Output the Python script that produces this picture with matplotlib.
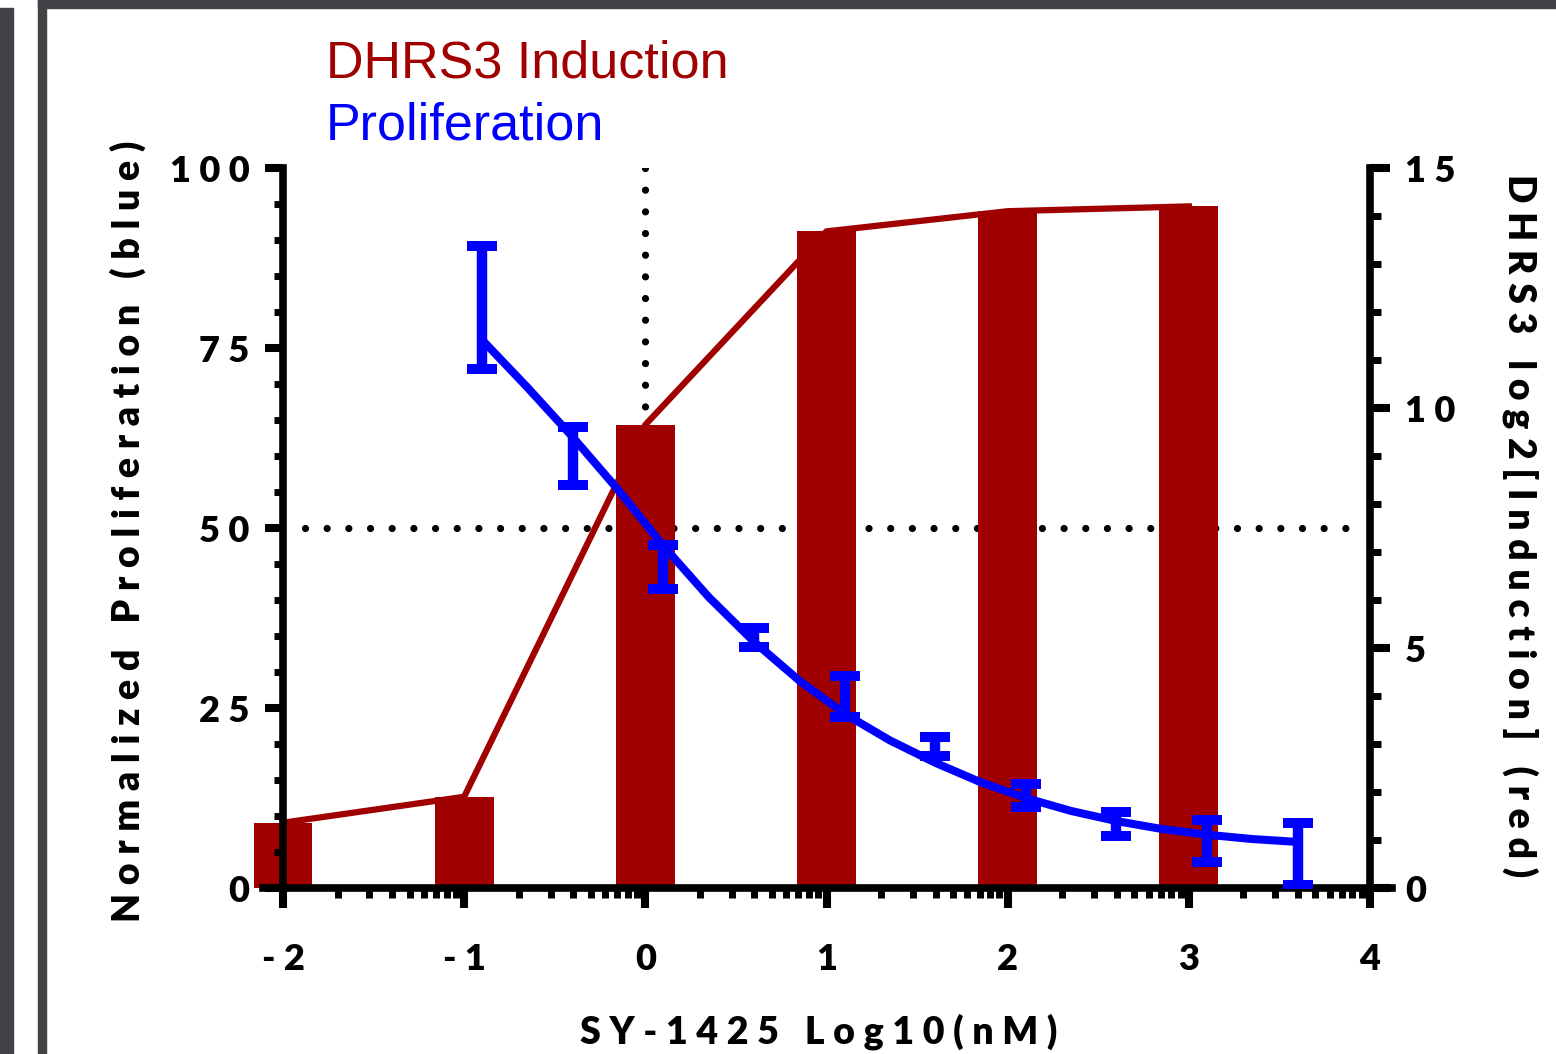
import numpy as np
import matplotlib
matplotlib.use("Agg")
import matplotlib.pyplot as plt
from matplotlib.patches import Rectangle
from matplotlib.ticker import FixedLocator, MultipleLocator

# Data
dose_bars = [-2, -1, 0, 1, 2, 3]
dhrs3_induction = [1.36, 1.9, 9.65, 13.68, 14.1, 14.2]

dose_prolif = [-0.9, -0.4, 0.1, 0.6, 1.1, 1.6, 2.1, 2.6, 3.1, 3.6]
prolif_lo = [72.1, 56.0, 41.5, 33.5, 23.75, 18.3, 11.25, 7.2, 3.6, 0.4]
prolif_hi = [89.2, 64.0, 47.6, 36.1, 29.4, 21.0, 14.4, 10.5, 9.4, 9.0]

fit_x = [-0.9, -0.65, -0.4, -0.15, 0.1, 0.35, 0.6, 0.85, 1.1, 1.35,
         1.6, 1.85, 2.1, 2.35, 2.6, 2.85, 3.1, 3.35, 3.6]
fit_y = [76.1, 69.5, 62.6, 55.3, 47.5, 40.4, 34.2, 28.8, 24.2, 20.5,
         17.4, 14.7, 12.5, 10.7, 9.3, 8.2, 7.4, 6.8, 6.4]

x_ticks = [-2, -1, 0, 1, 2, 3, 4]
x_ticklabels = ['- 2', '- 1', '0', '1', '2', '3', '4']
left_ticks = [0, 25, 50, 75, 100]
left_ticklabels = ['0', '2 5', '5 0', '7 5', '1 0 0']
right_ticks = [0, 5, 10, 15]
right_ticklabels = ['0', '5', '1 0', '1 5']

RED = '#a00000'
BLUE = '#0000ff'
GRAY = '#414245'
LABEL_FONT = ['Lato', 'DejaVu Sans']


def spaced(text):
    # letter-spaced look of the original axis titles
    return '   '.join(' '.join(w) for w in text.split(' '))


plt.rcParams['font.family'] = LABEL_FONT

W, H = 1556, 1054
fig = plt.figure(figsize=(W / 100, H / 100), dpi=100)

# slide frame bits
for (x0, y0, w, h) in [(0, 0, 13, 1046), (38, 0, 8, 1054), (38, 1046, 1518, 8)]:
    fig.patches.append(Rectangle((x0 / W, y0 / H), w / W, h / H,
                                 transform=fig.transFigure, color=GRAY, zorder=0))

# axes placed so that x=-2 -> 283px, x=4 -> 1370px, y=0 -> 888px, y=100 -> 168px
px_per_x = (1370 - 283) / 6
left_px = 283 - 0.2 * px_per_x
right_px = 1370 + 0.2 * px_per_x
ax_red = fig.add_axes([left_px / W, (H - 888) / H, (right_px - left_px) / W, 720 / H])
ax_red.set_xlim(-2.2, 4.2)
ax_red.set_ylim(0, 15)
ax_blue = ax_red.twinx()
ax_blue.set_ylim(0, 100)

# swap sides: red axis on right, blue on left
ax_blue.yaxis.tick_left()
ax_red.yaxis.tick_right()

# dotted guide lines (drawn under bars)
dot_style = dict(color='black', lw=5.2, linestyle=(0, (0.001, 3.0)),
                 dash_capstyle='round', zorder=1)
ax_red.plot([-1.88, 3.95], [50, 50], transform=ax_blue.transData, **dot_style)
ax_red.plot([0, 0], [100, 50], transform=ax_blue.transData, **dot_style)

# DHRS3 bars + line
ax_red.bar(dose_bars, dhrs3_induction, width=0.325, color=RED, zorder=2)
ax_red.plot(dose_bars, dhrs3_induction, color=RED, lw=4.5, zorder=3)

# proliferation fit and error bars
lo = np.array(prolif_lo)
hi = np.array(prolif_hi)
mid = (lo + hi) / 2
ax_blue.plot(fit_x, fit_y, color=BLUE, lw=5.8, zorder=3, solid_capstyle='butt',
             solid_joinstyle='round')
ax_blue.errorbar(dose_prolif, mid, yerr=[mid - lo, hi - mid], fmt='none',
                 ecolor=BLUE, elinewidth=7.5, capsize=10.8, capthick=7.2, zorder=4)

# spines
for s in ['left', 'top']:
    ax_red.spines[s].set_visible(False)
for s in ['right', 'top', 'bottom']:
    ax_blue.spines[s].set_visible(False)
ax_red.spines['right'].set_position(('data', 4))
ax_blue.spines['left'].set_position(('data', -2))
ax_red.spines['bottom'].set_bounds(-2.11, 4.12)
for sp in [ax_red.spines['right'], ax_red.spines['bottom'], ax_blue.spines['left']]:
    sp.set_linewidth(5.5)

tick_font = dict(fontsize=26, fontweight='heavy')

# x axis ticks
ax_red.set_xticks(x_ticks)
ax_red.set_xticklabels(x_ticklabels, **tick_font)
minor_x = [d + np.log10(k) for d in range(-2, 4) for k in range(2, 10)]
ax_red.xaxis.set_minor_locator(FixedLocator(minor_x))
ax_red.tick_params(axis='x', which='major', length=14.4, width=5.8, pad=25)
ax_red.tick_params(axis='x', which='minor', length=7.5, width=5)

# left (blue) axis ticks
ax_blue.set_yticks(left_ticks)
ax_blue.set_yticklabels(left_ticklabels, **tick_font)
ax_blue.yaxis.set_minor_locator(MultipleLocator(5))
ax_blue.tick_params(axis='y', which='major', length=13, width=5.8, pad=11)
ax_blue.tick_params(axis='y', which='minor', length=6.5, width=5)

# right (red) axis ticks
ax_red.set_yticks(right_ticks)
ax_red.set_yticklabels(right_ticklabels, **tick_font)
ax_red.yaxis.set_minor_locator(MultipleLocator(1))
ax_red.tick_params(axis='y', which='major', length=14.4, width=5.8, pad=11)
ax_red.tick_params(axis='y', which='minor', length=8, width=5)

# axis titles (letter-spaced as in the original)
title_font = dict(fontsize=27, fontweight='heavy')
fig.text(819 / W, 1 - 1043 / H, spaced('SY-1425 Log10(nM)'),
         ha='center', va='baseline', **title_font)
fig.text(140 / W, 1 - 531 / H, spaced('Normalized Proliferation (blue)'),
         rotation=90, rotation_mode='anchor', ha='center', va='baseline', **title_font)
fig.text(1508 / W, 1 - 526 / H, spaced('DHRS3 log2[Induction] (red)'),
         rotation=270, rotation_mode='anchor', ha='center', va='baseline', **title_font)

# legend-like titles
fig.text(326 / W, 1 - 77 / H, 'DHRS3 Induction', color=RED, fontsize=37.5,
         family=['Liberation Sans', 'DejaVu Sans'], va='baseline')
fig.text(326 / W, 1 - 140 / H, 'Proliferation', color=BLUE, fontsize=37.5,
         family=['Liberation Sans', 'DejaVu Sans'], va='baseline')

fig.savefig('out.png', dpi=100)
